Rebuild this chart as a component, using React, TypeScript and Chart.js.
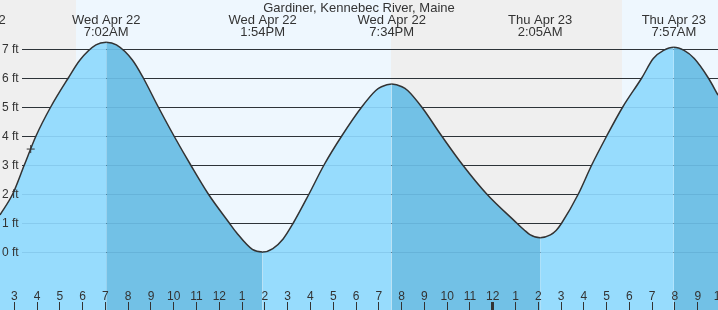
import { useEffect, useRef } from 'react';
import { Chart, registerables } from 'chart.js';

Chart.register(...registerables);

// Tide curve (hours since Wed Apr 22 00:00, feet)
const curveHours = [
  2.372, 2.929, 3.439, 3.952, 4.598, 5.370, 5.883, 6.583, 7.033, 7.483, 8.183, 8.663,
  9.321, 10.010, 10.743, 11.516, 12.438, 12.75, 13.45, 13.9, 14.35, 14.8, 15.247,
  15.937, 16.595, 17.372, 18.250, 18.867, 19.117, 19.567, 20.017, 20.267, 20.884,
  21.762, 22.684, 23.737, 25.054, 25.383, 25.633, 26.083, 26.533, 26.783, 27.030,
  27.759, 28.347, 29.005, 29.708, 30.542, 31.05, 31.5, 31.95, 32.4, 32.85, 33.466, 33.891,
];
const curveFeet = [
  1.28, 2, 3, 4, 5, 6, 6.62, 7.14, 7.23, 7.14, 6.62, 6,
  5, 4, 3, 2, 1, 0.67, 0.09, 0.0, 0.12, 0.45, 1,
  2, 3, 4, 5, 5.57, 5.70, 5.79, 5.70, 5.57, 5,
  4, 3, 2, 1, 0.76, 0.6, 0.49, 0.59, 0.74, 1,
  2, 3, 4, 5, 6, 6.67, 6.95, 7.06, 6.95, 6.67, 6, 5.41,
];

// High / low tide labels
const tideHours = [1.12, 7.033, 13.9, 19.567, 26.083, 31.95];
const tideDates = ['Wed Apr 22', 'Wed Apr 22', 'Wed Apr 22', 'Wed Apr 22', 'Thu Apr 23', 'Thu Apr 23'];
const tideClock = ['1:07AM', '7:02AM', '1:54PM', '7:34PM', '2:05AM', '7:57AM'];

// Night periods (start hour, end hour)
const nightStarts = [-2, 19.55];
const nightEnds = [5.708, 29.68];

const yTickFeet = [0, 1, 2, 3, 4, 5, 6, 7];
const xTickHours = [3, 4, 5, 6, 7, 8, 9, 10, 11, 12, 13, 14, 15, 16, 17, 18, 19, 20, 21, 22, 23, 24, 25, 26, 27, 28, 29, 30, 31, 32, 33, 34];

const nowHour = 3.72;
const nowFeet = 3.55;

const titleText = 'Gardiner, Kennebec River, Maine';

const X_MIN = 2.372;
const X_MAX = 33.89;
const Y_MIN = -2;
const Y_MAX = 8.69;

const LIGHT = '#97dcfd';
const DARK = '#72c1e6';
const DAY_BG = '#eef7fe';
const NIGHT_BG = '#efefef';
const TEXT = '#333333';
const FONT = '"Liberation Sans", Arial, sans-serif';

const hourLabel = (h: number) => {
  const m = h % 12;
  return String(m === 0 ? 12 : m);
};

const decorPlugin = {
  id: 'decor',
  beforeDatasetsDraw(chart: any) {
    const { ctx, chartArea, scales } = chart;
    const xs = scales.x;
    const ys = scales.y;
    ctx.save();
    ctx.fillStyle = DAY_BG;
    ctx.fillRect(chartArea.left, chartArea.top, chartArea.width, chartArea.height);
    ctx.fillStyle = NIGHT_BG;
    for (let i = 0; i < nightStarts.length; i++) {
      const a = Math.max(chartArea.left, xs.getPixelForValue(nightStarts[i]));
      const b = Math.min(chartArea.right, xs.getPixelForValue(nightEnds[i]));
      ctx.fillRect(Math.round(a), chartArea.top, Math.round(b) - Math.round(a), chartArea.height);
    }
    ctx.fillStyle = TEXT;
    for (const f of yTickFeet) {
      const y = Math.round(ys.getPixelForValue(f));
      ctx.fillRect(22, y, chartArea.right - 22, 1);
    }
    ctx.restore();
  },
  afterDatasetsDraw(chart: any) {
    const { ctx, chartArea, scales } = chart;
    const xs = scales.x;
    const ys = scales.y;
    ctx.save();
    // faint grid lines over the fill
    ctx.fillStyle = 'rgba(0, 60, 110, 0.10)';
    for (const f of yTickFeet) {
      const y = Math.round(ys.getPixelForValue(f));
      ctx.fillRect(22, y, chartArea.right - 22, 1);
    }
    // y labels
    ctx.fillStyle = TEXT;
    ctx.font = `12px ${FONT}`;
    ctx.textAlign = 'left';
    ctx.textBaseline = 'middle';
    for (const f of yTickFeet) {
      const y = ys.getPixelForValue(f);
      ctx.fillText(`${f} ft`, 2, y + 0.5);
    }
    // x ticks + labels
    ctx.textAlign = 'center';
    ctx.textBaseline = 'alphabetic';
    for (const h of xTickHours) {
      const x = xs.getPixelForValue(h);
      const w = h === 24 ? 3 : 1;
      ctx.fillRect(Math.floor(x) - (w === 3 ? 1 : 0), chartArea.bottom - 8, w, 8);
      ctx.fillText(hourLabel(h), x, chartArea.bottom - 10);
    }
    // tide labels
    ctx.font = `13px ${FONT}`;
    for (let i = 0; i < tideHours.length; i++) {
      const x = xs.getPixelForValue(tideHours[i]);
      ctx.fillText(tideDates[i], x, 23.5);
      ctx.fillText(tideClock[i], x, 36);
    }
    // title
    ctx.fillText(titleText, (chartArea.left + chartArea.right) / 2, 12);
    ctx.restore();
  },
};

export default function App() {
  const ref = useRef<HTMLCanvasElement | null>(null);
  useEffect(() => {
    if (!ref.current) return;
    const chart = new Chart(ref.current, {
      type: 'line',
      data: {
        datasets: [
          {
            type: 'line',
            data: [{ x: nowHour, y: nowFeet }],
            showLine: false,
            pointStyle: 'cross',
            pointRadius: 4,
            pointBorderColor: TEXT,
            pointBorderWidth: 1,
            borderColor: TEXT,
          } as any,
          {
            type: 'line',
            data: curveHours.map((h, i) => ({ x: h, y: curveFeet[i] })),
            borderColor: '#333333',
            borderWidth: 1.5,
            pointRadius: 0,
            fill: 'start',
            backgroundColor: LIGHT,
            cubicInterpolationMode: 'monotone',
            segment: {
              backgroundColor: (c: any) => (c.p1.parsed.y < c.p0.parsed.y ? DARK : LIGHT),
            },
          } as any,
        ],
      },
      options: {
        responsive: false,
        animation: false,
        devicePixelRatio: 1,
        layout: { padding: 0, autoPadding: false },
        events: [],
        scales: {
          x: { type: 'linear', min: X_MIN, max: X_MAX, display: false },
          y: { type: 'linear', min: Y_MIN, max: Y_MAX, display: false },
        },
        plugins: {
          legend: { display: false },
          tooltip: { enabled: false },
          title: { display: false },
        },
      },
      plugins: [decorPlugin],
    });
    return () => chart.destroy();
  }, []);
  return (
    <div style={{ position: 'absolute', left: 0, top: 0, width: 718, height: 310 }}>
      <canvas ref={ref} width={718} height={310} style={{ display: 'block', width: 718, height: 310 }} />
    </div>
  );
}
